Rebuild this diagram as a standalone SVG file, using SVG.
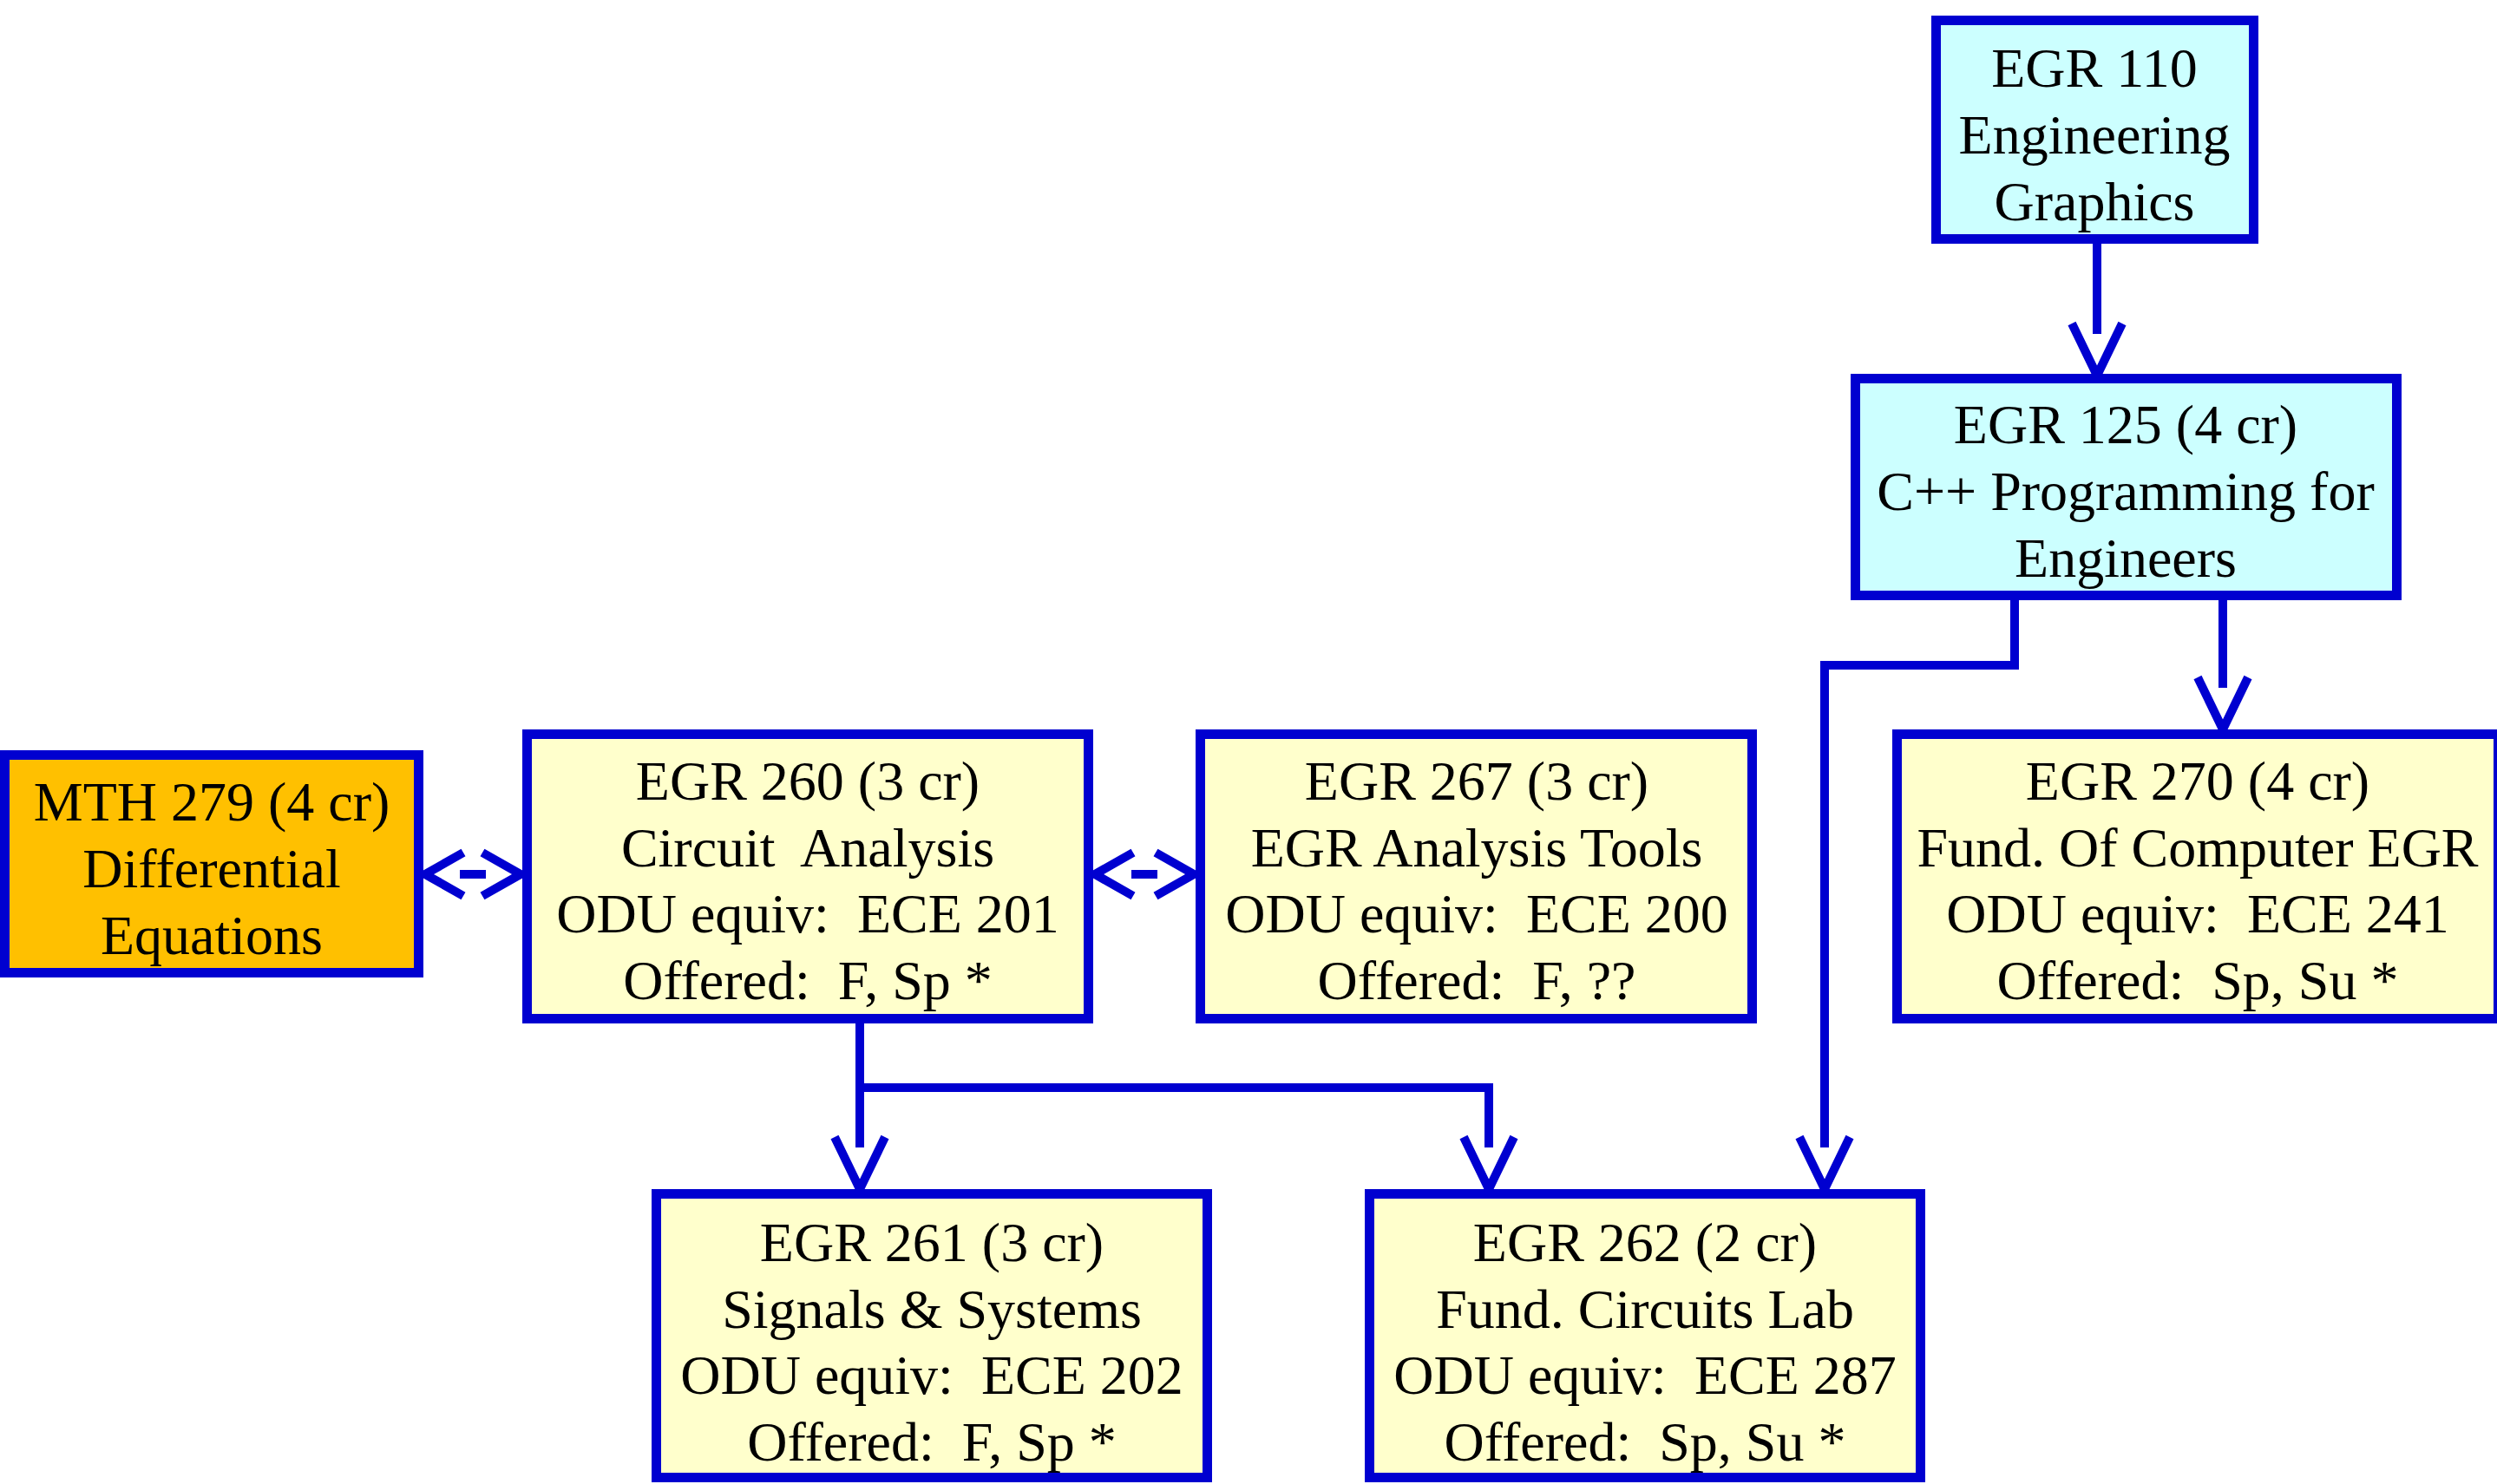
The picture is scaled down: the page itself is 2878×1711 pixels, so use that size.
<svg xmlns="http://www.w3.org/2000/svg" width="2878" height="1711" viewBox="0 0 2878 1711">
<style>
.box{stroke:#0000D0;stroke-width:11}
.cyan{fill:#CCFFFF}
.yel{fill:#FFFFCC}
.org{fill:#FFC000}
text{font-family:"Liberation Serif","Times New Roman",serif;font-size:64px;fill:#000;text-anchor:middle}
.con{fill:none;stroke:#0000D0;stroke-width:10;stroke-linejoin:miter}
.down{marker-end:url(#arrowV)}
.both{marker-start:url(#chev);marker-end:url(#chev)}
</style>
<defs>
<marker id="arrowV" markerUnits="userSpaceOnUse" orient="auto" refX="0" refY="0" markerWidth="10" markerHeight="10" overflow="visible">
<path d="M-12,-29 L48,0 L-12,29" fill="none" stroke="#0000D0" stroke-width="10"/>
</marker>
<marker id="chev" markerUnits="userSpaceOnUse" orient="auto-start-reverse" refX="0" refY="0" markerWidth="10" markerHeight="10" overflow="visible">
<path d="M-46,-25 L-2,0 L-46,25" fill="none" stroke="#0000D0" stroke-width="10"/>
</marker>
</defs>
<rect width="2878" height="1711" fill="#fff"/>
<g id="connectors">
<path class="con down" d="M2417,281 V385"/>
<path class="con down" d="M2562,692 V793"/>
<path class="con down" d="M2322,692 V767 H2103 V1323"/>
<path class="con down" d="M991,1180 V1323"/>
<path class="con down" d="M991,1254 H1716 V1323"/>
<path class="con both" d="M488,1008 H602" stroke-dasharray="0 42 30 42"/>
<path class="con both" d="M1260,1008 H1378" stroke-dasharray="0 44 30 44"/>
</g>
<g id="egr110">
<rect class="box cyan" x="2231.5" y="23.5" width="366" height="252"/>
<text x="2414" y="100">EGR 110</text>
<text x="2414" y="177">Engineering</text>
<text x="2414" y="254">Graphics</text>
</g>
<g id="egr125">
<rect class="box cyan" x="2138.5" y="436.5" width="624" height="250"/>
<text x="2450" y="511">EGR 125 (4 cr)</text>
<text x="2450" y="588">C++ Programming for</text>
<text x="2450" y="665">Engineers</text>
</g>
<g id="mth279">
<rect class="box org" x="5.5" y="870.5" width="477" height="251"/>
<text x="244" y="946">MTH 279 (4 cr)</text>
<text x="244" y="1023">Differential</text>
<text x="244" y="1100">Equations</text>
</g>
<g id="egr260">
<rect class="box yel" x="607.5" y="846.5" width="647" height="328"/>
<text x="931" y="922">EGR 260 (3 cr)</text>
<text x="931" y="999" xml:space="preserve">Circuit  Analysis</text>
<text x="931" y="1075" xml:space="preserve">ODU equiv:  ECE 201</text>
<text x="931" y="1152" xml:space="preserve">Offered:  F, Sp *</text>
</g>
<g id="egr267">
<rect class="box yel" x="1383.5" y="846.5" width="636" height="328"/>
<text x="1702" y="922">EGR 267 (3 cr)</text>
<text x="1702" y="999">EGR Analysis Tools</text>
<text x="1702" y="1075" xml:space="preserve">ODU equiv:  ECE 200</text>
<text x="1702" y="1152" xml:space="preserve">Offered:  F, ??</text>
</g>
<g id="egr270">
<rect class="box yel" x="2186.5" y="846.5" width="693" height="328"/>
<text x="2533" y="922">EGR 270 (4 cr)</text>
<text x="2533" y="999">Fund. Of Computer EGR</text>
<text x="2533" y="1075" xml:space="preserve">ODU equiv:  ECE 241</text>
<text x="2533" y="1152" xml:space="preserve">Offered:  Sp, Su *</text>
</g>
<g id="egr261">
<rect class="box yel" x="756.5" y="1376.5" width="635" height="327"/>
<text x="1074" y="1454">EGR 261 (3 cr)</text>
<text x="1074" y="1531">Signals &amp; Systems</text>
<text x="1074" y="1607" xml:space="preserve">ODU equiv:  ECE 202</text>
<text x="1074" y="1684" xml:space="preserve">Offered:  F, Sp *</text>
</g>
<g id="egr262">
<rect class="box yel" x="1578.5" y="1376.5" width="635" height="327"/>
<text x="1896" y="1454">EGR 262 (2 cr)</text>
<text x="1896" y="1531">Fund. Circuits Lab</text>
<text x="1896" y="1607" xml:space="preserve">ODU equiv:  ECE 287</text>
<text x="1896" y="1684" xml:space="preserve">Offered:  Sp, Su *</text>
</g>
</svg>
